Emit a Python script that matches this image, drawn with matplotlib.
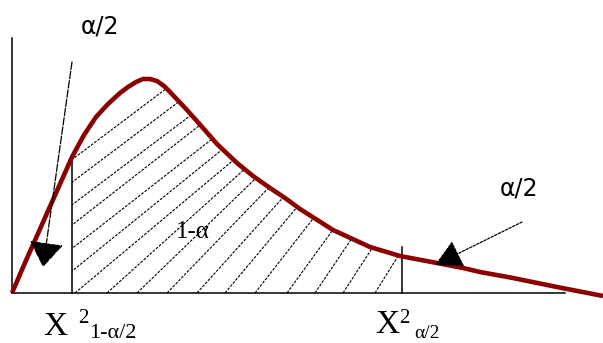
import numpy as np
import matplotlib
matplotlib.use('Agg')
import matplotlib.pyplot as plt
from matplotlib.patches import Polygon

# density curve (x from the origin, height above the baseline)
curve_x = [0, 12, 24, 36, 48, 60, 72, 84, 96, 108, 116, 124, 131, 138, 145, 152, 158,
           175, 191, 205, 225, 241, 258, 273, 288, 321, 358, 388, 425, 451, 468, 501, 545, 591]
curve_y = [0, 28, 55, 82, 109, 136, 158, 176, 189, 200, 206, 211, 214, 214, 212, 207, 201,
           183, 165, 149, 130, 117, 105, 95, 84, 63, 46, 37, 30, 25, 21, 15, 6, -3]

# critical values and the height of their marker lines
crit_x = [60, 390]
crit_top = [137, 46]

# hand drawn hatch: baseline intercepts and slope angles (degrees)
hatch_start = [-117, -87, -57, -27, 3, 33, 63, 95, 125, 155, 185, 213, 243, 275, 303, 331, 363]
hatch_angle = [37, 37, 37, 38, 38, 39, 40, 42, 44, 46, 48, 50, 52, 54, 56, 57, 58]

CURVE_COLOR = '#8b0000'

fig = plt.figure(figsize=(6.03, 3.43), dpi=100)
ax = fig.add_axes([0, 0, 1, 1])
ax.set_xlim(-12, 591)
ax.set_ylim(-50, 293)
ax.axis('off')

# axes of the diagram
ax.plot([0, 0], [0, 255], color='black', lw=1.1)
ax.plot([0, 553], [0, 0], color='black', lw=1.1)

# hatched area between the two critical values
cx = np.array(curve_x, dtype=float)
cy = np.array(curve_y, dtype=float)
inside = (cx > crit_x[0]) & (cx < crit_x[1])
poly_x = [crit_x[0]] + list(cx[inside]) + [crit_x[1]]
poly_y = [np.interp(crit_x[0], cx, cy)] + list(cy[inside]) + [np.interp(crit_x[1], cx, cy)]
region = Polygon(list(zip([crit_x[0]] + poly_x + [crit_x[1]], [0] + poly_y + [0])),
                 closed=True, facecolor='none', edgecolor='none')
ax.add_patch(region)
for b, a in zip(hatch_start, hatch_angle):
    t = np.radians(a)
    ln, = ax.plot([b, b + 400 * np.cos(t)], [0, 400 * np.sin(t)],
                  color='black', lw=0.8, ls=(0, (2.5, 1.2)))
    ln.set_clip_path(region)

# critical value markers
for x, top in zip(crit_x, crit_top):
    ax.plot([x, x], [0, top], color='black', lw=1.1)

# the curve
ax.plot(curve_x, curve_y, color=CURVE_COLOR, lw=3.3, solid_joinstyle='round',
        solid_capstyle='butt', zorder=5)

# arrows to the tails
ax.annotate('', xy=(31, 26), xytext=(60, 231),
            arrowprops=dict(arrowstyle='-|>,head_length=16,head_width=11', mutation_scale=1,
                            color='black', lw=0.9, ls=(0, (6, 1.5)), shrinkA=0, shrinkB=0),
            zorder=6)
ax.annotate('', xy=(423, 28), xytext=(510, 71),
            arrowprops=dict(arrowstyle='-|>,head_length=17,head_width=9', mutation_scale=1,
                            color='black', lw=0.9, ls=(0, (2, 1.2)), shrinkA=0, shrinkB=0),
            zorder=6)

# labels
ax.text(88, 267, 'α/2', fontsize=17, family='DejaVu Sans', ha='center', va='center')
ax.text(507, 105, 'α/2', fontsize=17, family='DejaVu Sans', ha='center', va='center')
ax.text(181, 61, '1-α', fontsize=18, family='Liberation Serif', ha='center', va='center')

ax.text(31, -42, 'X', fontsize=24, family='Liberation Serif', va='baseline')
ax.text(66, -30, '2', fontsize=15, family='Liberation Serif', va='baseline')
ax.text(77, -45, '1-α/2', fontsize=16, family='Liberation Serif', va='baseline')

ax.text(363, -40, 'X', fontsize=24, family='Liberation Serif', va='baseline')
ax.text(387, -30, '2', fontsize=15, family='Liberation Serif', va='baseline')
ax.text(402, -45, 'α/2', fontsize=14, family='Liberation Serif', va='baseline')

fig.savefig('out.png', dpi=100)
